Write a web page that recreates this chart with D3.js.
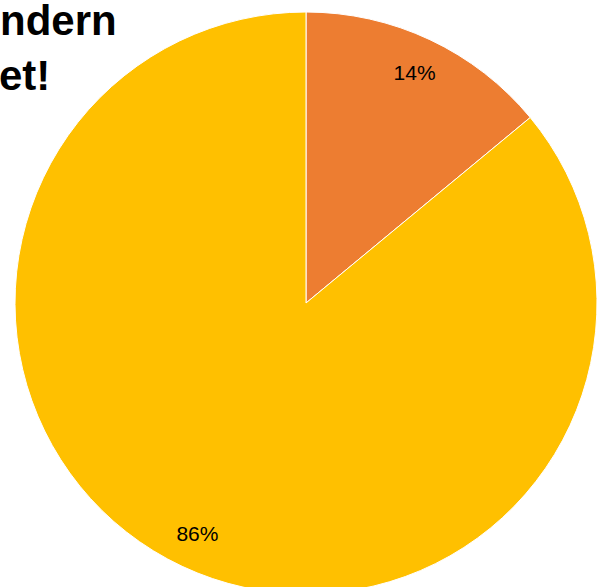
<!DOCTYPE html>
<html>
<head>
<meta charset="utf-8">
<script src="https://cdn.jsdelivr.net/npm/d3@7"></script>
<style>
  html, body { margin: 0; padding: 0; background: #fff; }
  #plot { width: 598px; height: 587px; overflow: hidden; }
</style>
</head>
<body>
<div id="plot"></div>
<script>
// Pie chart: two shares, title clipped at top-left
const labels = ['A', 'B'];
const values = [14, 86];
const colors = ['#ED7D31', '#FFC000'];
const titleLines = ['ndern', 'et!'];

const W = 598, H = 587;
const cx = 306, cy = 303, radius = 291;

const svg = d3.select('#plot').append('svg').attr('width', W).attr('height', H);

// title fragments (visible part of a longer heading)
const title = svg.append('g');
titleLines.forEach((t, i) => {
  title.append('text')
    .attr('x', i === 0 ? 0 : -1)
    .attr('y', 35 + i * 55)
    .style('font-family', '"Liberation Sans", Arial, sans-serif')
    .style('font-weight', 'bold')
    .style('font-size', '42px')
    .style('fill', '#000')
    .text(t);
});

const pie = d3.pie().sort(null).value((d) => d.value);
const arcs = pie(labels.map((l, i) => ({ label: l, value: values[i], color: colors[i] })));

const arc = d3.arc().innerRadius(0).outerRadius(radius);
const labelArc = d3.arc().innerRadius(255).outerRadius(255);

const g = svg.append('g').attr('transform', `translate(${cx},${cy})`);

g.selectAll('path')
  .data(arcs)
  .enter()
  .append('path')
  .attr('d', arc)
  .attr('fill', (d) => d.data.color)
  .attr('stroke', '#fff')
  .attr('stroke-width', 1);

const total = d3.sum(values);
g.selectAll('text.lbl')
  .data(arcs)
  .enter()
  .append('text')
  .attr('class', 'lbl')
  .attr('transform', (d) => `translate(${labelArc.centroid(d)})`)
  .attr('text-anchor', 'middle')
  .attr('dy', '0.35em')
  .style('font-family', '"Liberation Sans", Arial, sans-serif')
  .style('font-size', '21px')
  .style('fill', '#000')
  .text((d) => Math.round((d.data.value / total) * 100) + '%');
</script>
</body>
</html>
